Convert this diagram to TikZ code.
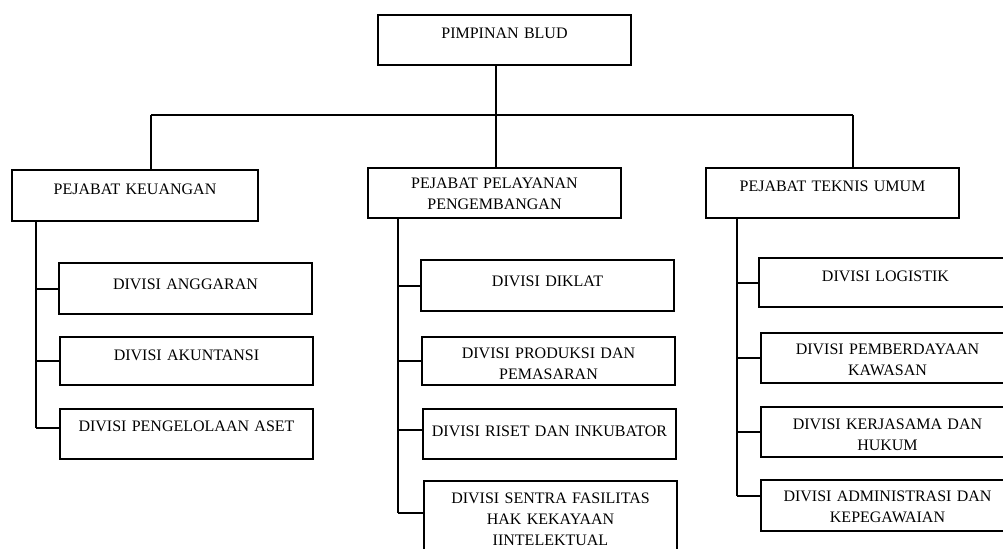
\documentclass[tikz,border=0pt]{standalone}
\usepackage{fontspec}
\setmainfont{Liberation Serif}
\begin{document}
\begin{tikzpicture}[x=0.75pt,y=-0.75pt]
\tikzstyle{kotak}=[rectangle,draw,line width=1.5pt,anchor=north west,inner sep=0pt,minimum width=189.75pt,text width=180pt,align=center,font=\fontsize{12}{15.75}\selectfont,text height=18pt,text depth=19.5pt]
\tikzstyle{kotakdua}=[kotak,text height=15.75pt,text depth=21.75pt]
\tikzstyle{garis}=[line width=1.5pt]
\useasboundingbox (0,0) rectangle (1003,549);
\clip (0,0) rectangle (1003,549);
% pimpinan dan pejabat
\node[kotak] (pimpinan) at (377,14) {PIMPINAN BLUD};
\node[kotak,minimum width=184.5pt,text height=18.75pt,text depth=19.5pt] (keuangan) at (11,169) {PEJABAT KEUANGAN};
\node[kotakdua] (pelayanan) at (367,167) {PEJABAT PELAYANAN\\PENGEMBANGAN};
\node[kotak] (teknis) at (705,167) {PEJABAT TEKNIS UMUM};
% divisi keuangan
\node[kotak,text height=19.5pt,text depth=18.75pt] (anggaran) at (58,262) {DIVISI ANGGARAN};
\node[kotak,text height=17.25pt,text depth=18.75pt] (akuntansi) at (59,336) {DIVISI AKUNTANSI};
\node[kotak,text height=16.5pt,text depth=21pt] (aset) at (59,408) {DIVISI PENGELOLAAN ASET};
% divisi pelayanan
\node[kotak,text height=19.5pt,text depth=18.75pt] (diklat) at (420,259) {DIVISI DIKLAT};
\node[kotakdua,text depth=20.25pt] (produksi) at (421,336) {DIVISI PRODUKSI DAN\\PEMASARAN};
\node[kotak,text height=20.25pt,text depth=17.25pt] (riset) at (422,408) {DIVISI RISET DAN INKUBATOR};
\node[kotakdua,text height=16.5pt,text depth=43.5pt] (sentra) at (423,480) {DIVISI SENTRA FASILITAS\\HAK KEKAYAAN\\IINTELEKTUAL};
% divisi teknis
\node[kotak,text height=17.25pt,text depth=19.5pt] (logistik) at (758,257) {DIVISI LOGISTIK};
\node[kotakdua] (kawasan) at (760,332) {DIVISI PEMBERDAYAAN\\KAWASAN};
\node[kotakdua,text height=16.5pt,text depth=21pt] (hukum) at (760,406) {DIVISI KERJASAMA DAN\\HUKUM};
\node[kotakdua,text depth=22.5pt] (pegawai) at (760,479) {DIVISI ADMINISTRASI DAN\\KEPEGAWAIAN};
% garis penghubung
\coordinate (tengah) at (496,115);
\coordinate (kiri) at (151,115);
\coordinate (kanan) at (853,115);
\coordinate (cabang1) at (36,0);
\coordinate (cabang2) at (398,0);
\coordinate (cabang3) at (737,0);
\draw[garis] (tengah |- pimpinan.south)--(tengah |- pelayanan.north);
\draw[garis] (kiri)--(kanan);
\draw[garis] (kiri)--(kiri |- keuangan.north);
\draw[garis] (kanan)--(kanan |- teknis.north);
\draw[garis] (cabang1 |- keuangan.south)--([yshift=4.5pt]aset.west -| cabang1);
\draw[garis] (anggaran.west)--(anggaran.west -| cabang1);
\draw[garis] (akuntansi.west)--(akuntansi.west -| cabang1);
\draw[garis] ([yshift=4.5pt]aset.west)--([yshift=4.5pt]aset.west -| cabang1);
\draw[garis] (cabang2 |- pelayanan.south)--([yshift=6pt]sentra.west -| cabang2);
\draw[garis] (diklat.west)--(diklat.west -| cabang2);
\draw[garis] (produksi.west)--(produksi.west -| cabang2);
\draw[garis] ([yshift=3pt]riset.west)--([yshift=3pt]riset.west -| cabang2);
\draw[garis] ([yshift=6pt]sentra.west)--([yshift=6pt]sentra.west -| cabang2);
\draw[garis] (cabang3 |- teknis.south)--([yshift=7pt]pegawai.west -| cabang3);
\draw[garis] (logistik.west)--(logistik.west -| cabang3);
\draw[garis] (kawasan.west)--(kawasan.west -| cabang3);
\draw[garis] (hukum.west)--(hukum.west -| cabang3);
\draw[garis] ([yshift=7pt]pegawai.west)--([yshift=7pt]pegawai.west -| cabang3);
\end{tikzpicture}
\end{document}
